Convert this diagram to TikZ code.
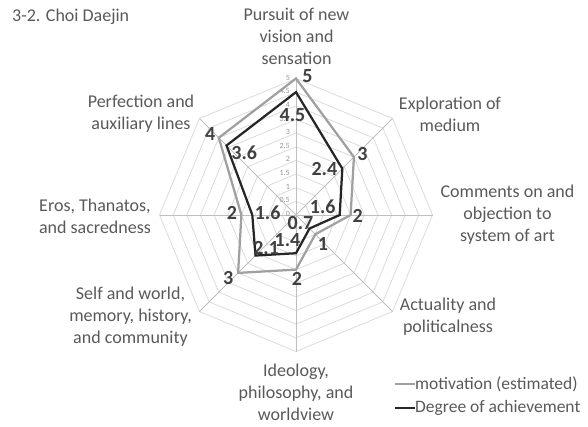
\documentclass[tikz,border=0pt]{standalone}
\usepackage{fontspec}
\setmainfont{Carlito}
\usepackage{tikz}
\usetikzlibrary{calc}
\definecolor{gridgray}{RGB}{217,217,217}
\definecolor{spokegray}{RGB}{191,191,191}
\definecolor{motivgray}{RGB}{160,160,160}
\definecolor{achievedark}{RGB}{38,38,38}
\definecolor{labeltext}{RGB}{89,89,89}
\definecolor{valuetext}{RGB}{64,64,64}
\definecolor{ticktext}{RGB}{150,150,150}

\begin{document}
\begin{tikzpicture}[
    x=1pt, y=1pt,
    gridline/.style={draw=gridgray, line width=0.75pt},
    spoke/.style={draw=spokegray, line width=0.75pt},
    motiv/.style={draw=motivgray, line width=2.25pt},
    achieve/.style={draw=achievedark, line width=2.25pt},
    catlabel/.style={font=\fontsize{18}{22}\selectfont, text=labeltext, align=center, inner sep=0pt},
    vallabel/.style={font=\fontsize{20}{24}\selectfont\bfseries, text=valuetext, inner sep=0pt},
    ticklabel/.style={font=\fontsize{8}{9}\selectfont, text=ticktext, anchor=east, inner sep=0pt}
  ]
  \useasboundingbox (0,0) rectangle (588,426);
  \def\unitr{27.3}

  % Title
  \node[catlabel, anchor=west] (title) at (12,409) {3-2. Choi Daejin};

  \begin{scope}[shift={(296,211)}]
    \coordinate (O) at (0,0);

    % Rings
    \foreach \k in {1,...,10} {
      \pgfmathsetmacro\rr{\k*0.5*\unitr}
      \draw[gridline] (90:\rr) -- (45:\rr) -- (0:\rr) -- (-45:\rr) -- (-90:\rr)
        -- (-135:\rr) -- (180:\rr) -- (135:\rr) -- cycle;
    }

    % Spokes
    \foreach \ang [count=\i] in {90,45,0,-45,-90,-135,180,135} {
      \draw[spoke] (O) -- (\ang:{5*\unitr}) coordinate (ax\i);
    }

    % Scale
    \foreach \v/\t [count=\k] in {0/0,0.5/0.5,1/1,1.5/1.5,2/2,2.5/2.5,3/3,3.5/3.5,4/4,4.5/4.5,5/5} {
      \node[ticklabel] (tick\k) at (-6,{\v*\unitr+1}) {\t};
    }

    % Data points
    \foreach \ang/\v [count=\i] in {90/5,45/3,0/2,-45/1,-90/2,-135/3,180/2,135/4}
      \coordinate (m\i) at (\ang:{\v*\unitr});
    \foreach \ang/\v [count=\i] in {90/4.5,45/2.4,0/1.6,-45/0.7,-90/1.4,-135/2.1,180/1.6,135/3.6}
      \coordinate (a\i) at (\ang:{\v*\unitr});

    \draw[motiv] (m1) -- (m2) -- (m3) -- (m4) -- (m5) -- (m6) -- (m7) -- (m8) -- cycle;
    \draw[achieve] (a1) -- (a2) -- (a3) -- (a4) -- (a5) -- (a6) -- (a7) -- (a8) -- cycle;

    % Value labels
    \foreach \p/\t/\dx/\dy in {m1/5/11.5/2.3, a1/4.5/-3.5/-23.3, m2/3/8.4/3.4, a2/2.4/-18/0,
        m3/2/7.2/-1, a3/1.6/-17/8, m4/1/7.6/-9.6, a4/0.7/-9/5.6,
        m5/2/1/-9.2, a5/1.4/-8.5/13.4, m6/3/-10/-5, a6/2.1/10.7/7.7,
        m7/2/-9.5/2, a7/1.6/15.3/2, m8/4/-8.5/3.5, a8/3.6/17.7/-7.7} {
      \node[vallabel, xshift=\dx, yshift=\dy] (v\p) at (\p) {\t};
    }
  \end{scope}

  % Category labels
  \node[catlabel] (cat1) at (296.5,390) {Pursuit of new\\vision and\\sensation};
  \node[catlabel] (cat2) at (450,312) {Exploration of\\medium};
  \node[catlabel] (cat3) at (507.5,211) {Comments on and\\objection to\\system of art};
  \node[catlabel] (cat4) at (448,109) {Actuality and\\politicalness};
  \node[catlabel] (cat5) at (296,34) {Ideology,\\philosophy, and\\worldview};
  \node[catlabel] (cat6) at (130.5,109) {Self and world,\\memory, history,\\and community};
  \node[catlabel] (cat7) at (95,210) {Eros, Thanatos,\\and sacredness};
  \node[catlabel] (cat8) at (141,312) {Perfection and\\auxiliary lines};

  % Legend
  \node[catlabel, anchor=west, font=\fontsize{17.5}{21}\selectfont] (legm) at (415,42) {motivation (estimated)};
  \node[catlabel, anchor=west, font=\fontsize{17.5}{21}\selectfont] (lega) at (415,18) {Degree of achievement};
  \draw[draw=motivgray, line width=1.5pt] (legm.west) -- ++(-20,0);
  \draw[draw=achievedark, line width=1.5pt] (lega.west) -- ++(-20,0);

\end{tikzpicture}
\end{document}
